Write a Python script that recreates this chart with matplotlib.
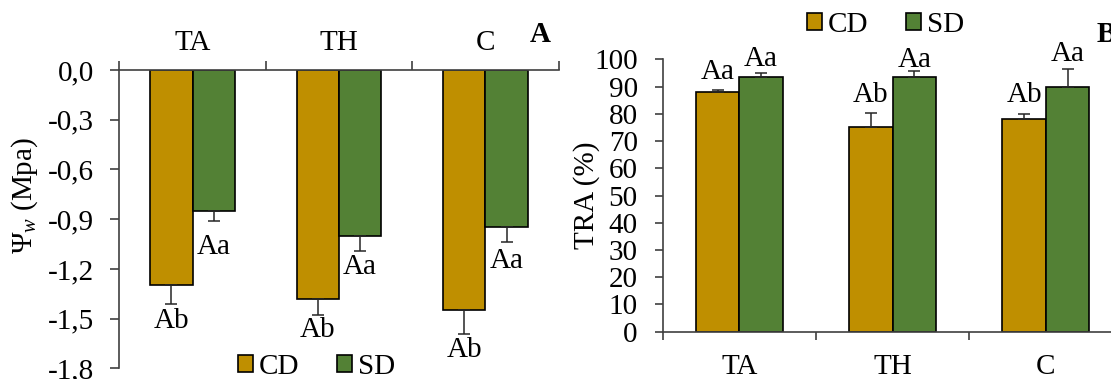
import matplotlib.pyplot as plt
import numpy as np
from matplotlib.patches import Patch

plt.rcParams['font.family'] = ['Liberation Serif', 'DejaVu Serif']
plt.rcParams['mathtext.fontset'] = 'custom'
plt.rcParams['mathtext.rm'] = 'Liberation Serif'
plt.rcParams['mathtext.it'] = 'Liberation Serif:italic'

# data
cats = ['TA', 'TH', 'C']

psi_cd = [-1.30, -1.38, -1.45]
psi_cd_err = [0.11, 0.10, 0.14]
psi_sd = [-0.85, -1.00, -0.95]
psi_sd_err = [0.06, 0.09, 0.09]
psi_cd_lab = ['Ab', 'Ab', 'Ab']
psi_sd_lab = ['Aa', 'Aa', 'Aa']

tra_cd = [88.0, 75.3, 78.2]
tra_cd_err = [0.8, 4.9, 1.6]
tra_sd = [93.5, 93.4, 89.7]
tra_sd_err = [1.6, 2.2, 6.7]
tra_cd_lab = ['Aa', 'Ab', 'Ab']
tra_sd_lab = ['Aa', 'Aa', 'Aa']

psi_ticks = [0.0, -0.3, -0.6, -0.9, -1.2, -1.5, -1.8]
tra_ticks = [0, 10, 20, 30, 40, 50, 60, 70, 80, 90, 100]

CD_COL = '#BF8F00'
SD_COL = '#538135'
AX_COL = '#404040'
FS = 21
CAP_PX = 0.655 * FS * 100 / 72   # height of a capital letter in pixels

fig = plt.figure(figsize=(11.11, 3.79), dpi=100)
axA = fig.add_axes([0.1074, 0.0282, 0.3955, 0.7871])
axB = fig.add_axes([0.5965, 0.1248, 0.4139, 0.7187])

x = np.arange(len(cats))


def draw_bars(ax, w, cd, cd_err, sd, sd_err, down):
    ax.bar(x - w/2, cd, w, color=CD_COL, edgecolor='black', linewidth=1.2, zorder=2)
    ax.bar(x + w/2, sd, w, color=SD_COL, edgecolor='black', linewidth=1.2, zorder=2)
    z = np.zeros(len(cats))
    for xs, v, e in [(x - w/2, cd, cd_err), (x + w/2, sd, sd_err)]:
        yerr = [e, z] if down else [z, e]
        ax.errorbar(xs, v, yerr=yerr, fmt='none', ecolor='#262626',
                    elinewidth=1.1, capsize=4.5, capthick=1.1, zorder=3)


def label_bars(ax, xs, tops, labs, gaps, down):
    # gaps are in pixels between the cap and the letters
    for xi, t, lab, g in zip(xs, tops, labs, gaps):
        off = -(g + CAP_PX) if down else g
        ax.annotate(lab, (xi, t), xytext=(0, off * 0.72), textcoords='offset points',
                    ha='center', va='baseline', fontsize=FS, zorder=4)


# ---- panel A: water potential
wA = 0.288
draw_bars(axA, wA, psi_cd, psi_cd_err, psi_sd, psi_sd_err, down=True)
label_bars(axA, x - wA/2, np.array(psi_cd) - np.array(psi_cd_err), psi_cd_lab, [5, 2.5, 4.5], True)
label_bars(axA, x + wA/2, np.array(psi_sd) - np.array(psi_sd_err), psi_sd_lab, [14, 4, 7], True)

axA.set_xlim(-0.5, 2.5)
axA.set_ylim(-1.8, 0)
axA.spines['right'].set_visible(False)
axA.spines['bottom'].set_visible(False)
for s in ['top', 'left']:
    axA.spines[s].set_color(AX_COL)
    axA.spines[s].set_linewidth(1.2)
axA.xaxis.tick_top()
axA.set_xticks([-0.5, 0.5, 1.5, 2.5])
axA.set_xticklabels([])
axA.set_xticks(x, minor=True)
axA.set_xticklabels(cats, minor=True)
axA.tick_params(axis='x', which='both', top=True, labeltop=True, bottom=False, labelbottom=False)
axA.tick_params(axis='x', which='major', length=6.5, width=1.2, color=AX_COL, direction='out')
axA.tick_params(axis='x', which='minor', length=0, pad=10, labelsize=FS)
axA.set_yticks(psi_ticks)
axA.set_yticklabels([('%.1f' % abs(v) if v == 0 else '%.1f' % v).replace('.', ',') for v in psi_ticks])
axA.tick_params(axis='y', length=6.5, width=1.2, color=AX_COL, pad=12, labelsize=FS)

fig.text(0.0225, 0.483, 'Ψ$_{w}$ (Mpa)', rotation=90, ha='center', va='center', fontsize=FS)
fig.text(0.486, 0.908, 'A', ha='center', va='center', fontsize=FS, fontweight='bold')

handles = [Patch(facecolor=CD_COL, edgecolor='black', linewidth=1.2),
           Patch(facecolor=SD_COL, edgecolor='black', linewidth=1.2)]
fig.legend(handles, ['CD', 'SD'], loc='center', bbox_to_anchor=(0.2849, 0.0325), ncol=2,
           frameon=False, handlelength=0.5, handleheight=0.5, handletextpad=0.2,
           columnspacing=1.3, fontsize=FS, borderpad=0, borderaxespad=0)

# ---- panel B: relative water content
wB = 0.284
draw_bars(axB, wB, tra_cd, tra_cd_err, tra_sd, tra_sd_err, down=False)
label_bars(axB, x - wB/2, np.array(tra_cd) + np.array(tra_cd_err), tra_cd_lab, [11, 11.5, 12.5], False)
label_bars(axB, x + wB/2, np.array(tra_sd) + np.array(tra_sd_err), tra_sd_lab, [7, 4.5, 8], False)

axB.set_xlim(-0.5, 2.5)
axB.set_ylim(0, 100)
axB.spines['right'].set_visible(False)
axB.spines['top'].set_visible(False)
for s in ['bottom', 'left']:
    axB.spines[s].set_color(AX_COL)
    axB.spines[s].set_linewidth(1.2)
axB.set_xticks([-0.5, 0.5, 1.5, 2.5])
axB.set_xticklabels([])
axB.set_xticks(x, minor=True)
axB.set_xticklabels(cats, minor=True)
axB.tick_params(axis='x', which='major', length=6, width=1.2, color=AX_COL, direction='out')
axB.tick_params(axis='x', which='minor', length=0, pad=16, labelsize=FS)
axB.set_yticks(tra_ticks)
axB.tick_params(axis='y', length=6, width=1.2, color=AX_COL, pad=12, labelsize=FS)

fig.text(0.528, 0.485, 'TRA (%)', rotation=90, ha='center', va='center', fontsize=FS)
fig.text(0.987, 0.908, 'B', ha='left', va='center', fontsize=FS, fontweight='bold')

fig.legend(handles, ['CD', 'SD'], loc='center', bbox_to_anchor=(0.797, 0.934), ncol=2,
           frameon=False, handlelength=0.5, handleheight=0.5, handletextpad=0.2,
           columnspacing=1.3, fontsize=FS, borderpad=0, borderaxespad=0)

fig.savefig('out.png', dpi=100)
